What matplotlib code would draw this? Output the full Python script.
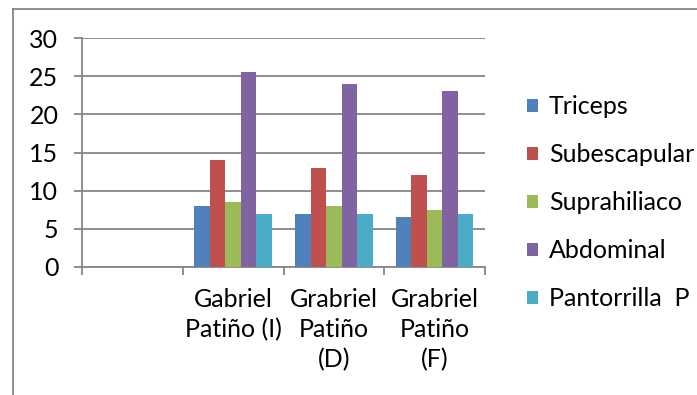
import matplotlib.pyplot as plt
import numpy as np
from matplotlib.lines import Line2D

plt.rcParams['font.family'] = ['Lato', 'DejaVu Sans']

# Data
categories = ["", "Gabriel\nPatiño (I)", "Grabriel\nPatiño\n(D)", "Grabriel\nPatiño\n(F)"]
series = ["Triceps", "Subescapular", "Suprahiliaco", "Abdominal", "Pantorrilla  P"]
triceps = [0, 8, 7, 6.5]
subescapular = [0, 14, 13, 12]
suprahiliaco = [0, 8.5, 8, 7.5]
abdominal = [0, 25.5, 24, 23]
pantorrilla = [0, 7, 7, 7]
colors = ["#4F81BD", "#C0504D", "#9BBB59", "#8064A2", "#4BACC6"]

values = [triceps, subescapular, suprahiliaco, abdominal, pantorrilla]
grid_c = "#868686"
fs = 18

fig = plt.figure(figsize=(6.97, 3.95), dpi=100)
ax = fig.add_axes([82 / 697, 1 - 267 / 395, (485 - 82) / 697, (267 - 38) / 395])

x = np.arange(len(categories))
w = 1 / 6.5
for i, (name, vals) in enumerate(zip(series, values)):
    ax.bar(x + (i - 2) * w, vals, width=w, color=colors[i], label=name, zorder=3)

ax.set_xlim(-0.5, len(categories) - 0.5)
ax.set_ylim(0, 30)
ax.set_yticks(range(0, 31, 5))
ax.yaxis.grid(True, color=grid_c, linewidth=1.3, zorder=0)
ax.set_axisbelow(True)

ax.set_xticks(x)
ax.set_xticklabels(categories, fontsize=fs, linespacing=1.36)
ax.set_xticks(np.arange(-0.5, len(categories), 1), minor=True)
ax.tick_params(axis='x', which='major', length=0, pad=15)
ax.tick_params(axis='x', which='minor', length=6, width=1.3, color=grid_c)
ax.tick_params(axis='y', length=6, width=1.3, color=grid_c, labelsize=fs, pad=11)

for s in ['top', 'right']:
    ax.spines[s].set_visible(False)
for s in ['left', 'bottom']:
    ax.spines[s].set_color(grid_c)
    ax.spines[s].set_linewidth(1.3)

ax.legend(loc='upper left', bbox_to_anchor=(527 / 697, 1 - 95 / 395),
          bbox_transform=fig.transFigure, frameon=False, fontsize=fs,
          handlelength=0.42, handleheight=0.42, handletextpad=0.45,
          labelspacing=1.0, borderaxespad=0, borderpad=0)

# chart frame (only top and left edges are visible)
fig.add_artist(Line2D([13.5 / 697, 13.5 / 697], [0, 1 - 9 / 395],
                      transform=fig.transFigure, color=grid_c, lw=1.3))
fig.add_artist(Line2D([13.5 / 697, 1], [1 - 9 / 395, 1 - 9 / 395],
                      transform=fig.transFigure, color=grid_c, lw=1.3))

fig.savefig("out.png", dpi=100)
